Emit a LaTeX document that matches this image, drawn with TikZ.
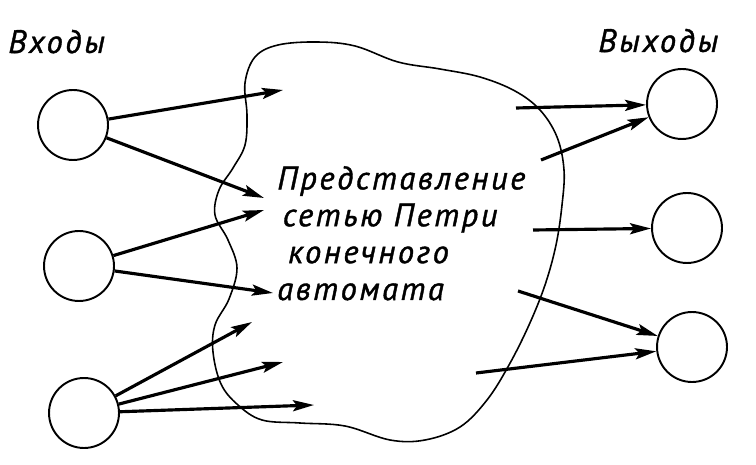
\documentclass[tikz,border=0pt]{standalone}
\usepackage{fontspec}
\newfontfamily\lettering[LetterSpace=8,ItalicFont={PT Sans Italic},
  ItalicFeatures={FakeBold=1.2}]{PT Sans}
\usetikzlibrary{arrows.meta}

\begin{document}
\begin{tikzpicture}[x=0.02cm,y=-0.02cm,->,>={Stealth[length=4.2mm,width=2.2mm,inset=0.8mm]},
  every node/.style={font=\lettering\itshape\fontsize{18.5}{21}\selectfont},
  every edge/.append style={line width=1.8pt},
  place/.style={circle,draw,line width=1.1pt,minimum size=1.4cm,inner sep=0pt}]
\useasboundingbox (0,0) rectangle (756,465);

% The finite automaton cloud.
\draw[-,line width=0.9pt] plot[smooth cycle,tension=0.6] coordinates {
  (245,83) (255,57) (278,45) (317,42) (355,46) (398,62) (440,69) (480,77)
  (515,91) (540,110) (557,137) (564,170) (562,205) (556,245) (545,285)
  (529,325) (509,365) (487,400) (460,427) (425,440) (390,440) (345,426)
  (300,423) (262,420) (238,405) (221,384) (213,352) (215,325) (229,299)
  (237,268) (228,240) (215,215) (219,190) (233,168) (245,145) (247,115)};

\node[anchor=base west,align=left,inner sep=0pt] (net) at (277,300)
  {Представление\\ \,сетью Петри\\ \,\,конечного\\ автомата};

\node[anchor=base west,inner sep=0pt] (inputs) at (8,53) {Входы};
\node[anchor=base west,inner sep=0pt] (outputs) at (598,52) {Выходы};

\node[place] (in1) at (73,125) {};
\node[place] (in2) at (79,266) {};
\node[place] (in3) at (84,413) {};

\node[place] (out1) at (682,104) {};
\node[place] (out2) at (687,228) {};
\node[place] (out3) at (692,347) {};

% Free ends inside the cloud.
\coordinate (a1) at (283,90);
\coordinate (a2) at (264,198);
\coordinate (a3) at (264,210);
\coordinate (a4) at (273,293);
\coordinate (a5) at (252,322);
\coordinate (a6) at (283,362);
\coordinate (a7) at (314,405);
\coordinate (b1) at (516,108);
\coordinate (b2) at (541,160);
\coordinate (b3) at (533,230);
\coordinate (b4) at (518,291);
\coordinate (b5) at (476,373);

% From the inputs into the cloud.
\path (in1) edge (a1) edge (a2)
      (in2) edge (a3) edge (a4)
      (in3) edge (a5) edge (a6) edge (a7);
% From the cloud to the outputs.
\path (b1) edge (out1)
      (b2) edge (out1)
      (b3) edge (out2)
      (b4) edge (out3)
      (b5) edge (out3);
\end{tikzpicture}
\end{document}
